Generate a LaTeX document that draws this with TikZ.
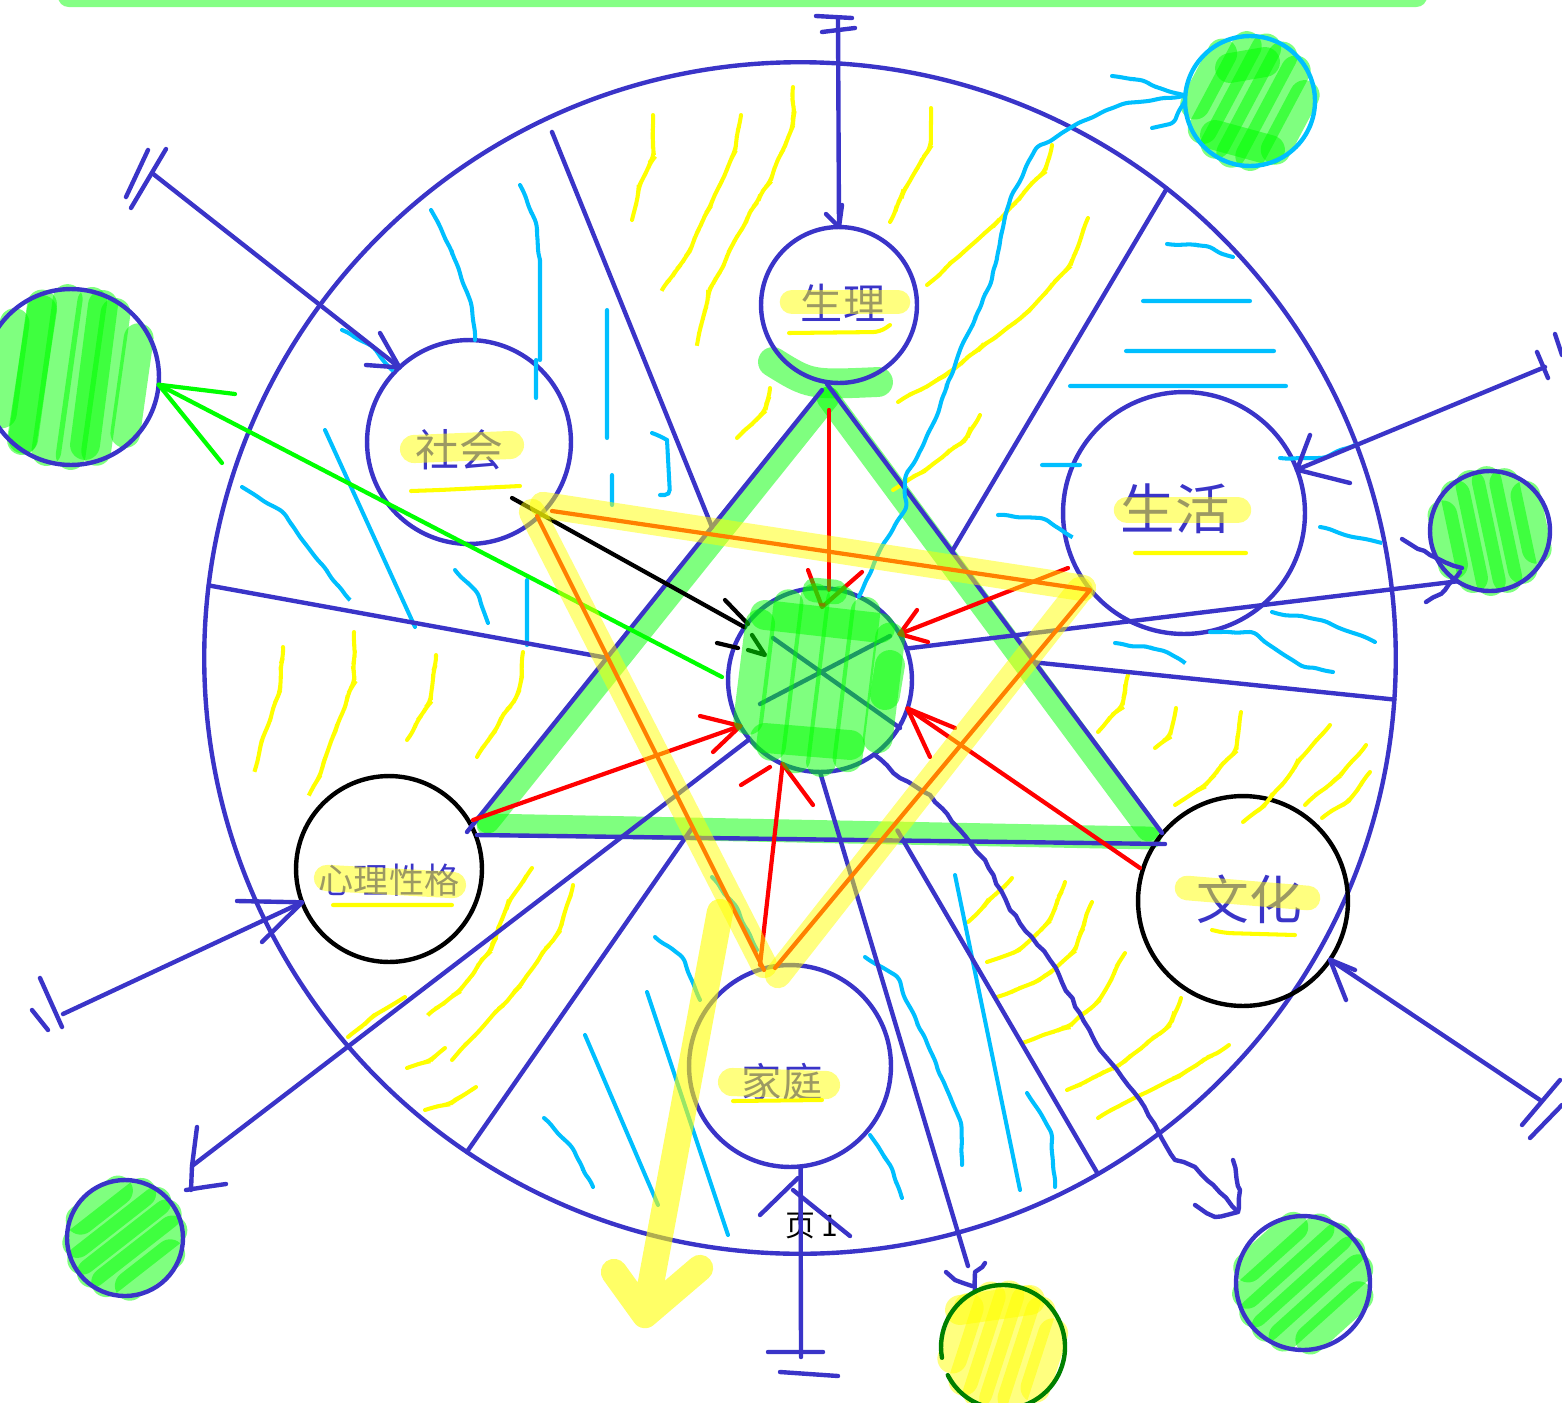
\documentclass[tikz,border=0pt]{standalone}
\usepackage{fontspec}
\newfontfamily\cjk{Noto Sans CJK SC}
\usetikzlibrary{
  positioning,
  backgrounds,  % Predefined layer named "background"
  decorations.pathmorphing,
  calc          % Points along the triangle sides
}
\definecolor{wireblue}{HTML}{3A34C8}
\definecolor{icecyan}{HTML}{00BFFF}
\definecolor{sunorange}{HTML}{FF8000}
\definecolor{barleaf}{HTML}{85FF85}
\definecolor{yellow}{rgb}{1,1,0}
\tikzset{
  wire/.style={draw=wireblue,line width=2.5pt,line cap=round,line join=round},
  ice/.style={draw=icecyan,line width=2.3pt,line cap=round,rounded corners=3pt},
  lemon/.style={draw=yellow,line width=2.3pt,line cap=round,rounded corners=4pt},
  redline/.style={draw=red,line width=2.4pt,line cap=round,line join=round},
  inkline/.style={line width=2.4pt,line cap=round,line join=round},
  shaky/.style={decorate,decoration={random steps,segment length=5pt,amplitude=0.7pt}},
  ring/.style={
    circle,
    wire,
    inner sep=0pt,
    outer sep=0pt,
    minimum size=#1*0.04cm
  },
  cjk text/.style={
    font=\cjk\fontsize{#1}{#1}\selectfont,
    text=wireblue,
    inner sep=0pt
  },
  glow/.style={draw=yellow,opacity=0.5,line cap=round},
  swipe/.style={draw=#1,opacity=0.5,line width=17pt,line cap=round},
  greenband/.style={draw=green,opacity=0.5,line width=13pt,line cap=round},
  yellowband/.style={draw=yellow,opacity=0.5,line width=15pt,line cap=round}
}
\pgfmathsetseed{7}
% Scribbled fill: node, radius, slant, colour
\newcommand{\scribble}[4]{%
  \begin{scope}[shift={(#1)},rotate=#3]
    \foreach \d in {-0.72,-0.44,-0.16,0.12,0.4,0.7} {
      \pgfmathsetmacro\h{sqrt((#2-10)*(#2-10)-#2*#2*\d*\d)}
      \draw[swipe=#4] (#2*\d,-\h) -- (#2*\d,\h);
    }
  \end{scope}
}
\begin{document}
\begin{tikzpicture}[x=0.02cm,y=-0.02cm]
\useasboundingbox (0,0) rectangle (1562,1403);
\fill[barleaf,rounded corners=6pt] (58,-20) rectangle (1427,7);

% Main nodes
\node[ring=596] (wheel) at (800,658) {};
\node[ring=78] (body) at (839,305) {};
\node[ring=102] (society) at (469,442) {};
\node[ring=121] (living) at (1184,513) {};
\node[ring=93,draw=black] (mind) at (389,869) {};
\node[ring=105,draw=black] (culture) at (1243,901) {};
\node[ring=101] (family) at (790,1066) {};
\node[ring=92] (core) at (820,680) {};
\node[ring=65,draw=icecyan] (skyball) at (1250,101) {};
\node[ring=88] (leftball) at (71,377) {};
\node[ring=60] (rightball) at (1490,531) {};
\node[ring=58] (lowball) at (125,1238) {};
\node[ring=67] (farball) at (1303,1283) {};
\node[ring=62,draw=none] (sunball) at (1003,1347) {};

% Triangle corners
\coordinate (apex l) at (822,390);
\coordinate (apex r) at (827,384);
\coordinate (west) at (467,832);
\coordinate (west b) at (477,835);
\coordinate (east) at (1162,833);
\coordinate (east b) at (1165,844);
\coordinate (red west) at (473,820);
\coordinate (star a) at (537,516);
\coordinate (star a2) at (552,511);
\coordinate (star b) at (1090,590);
\coordinate (star c) at (764,970);
\coordinate (star c2) at (775,968);

% Washes under everything
\begin{scope}[on background layer]
  \draw[greenband] (828,398) -- (488,822);
  \draw[greenband] (828,398) -- (1148,830);
  \draw[greenband] (488,825) -- (1150,838);
  \draw[draw=green,opacity=0.5,line width=17pt,line cap=round] (773,362) .. controls (810,385) .. (878,382);
  \scribble{skyball}{65}{-28}{green}
  \draw[swipe=green] (1230,68) -- (1265,62) (1215,135) -- (1270,150);
  \scribble{leftball}{88}{-8}{green}
  \draw[swipe=green] (42,310) -- (22,440) (103,305) -- (85,445);
  \scribble{rightball}{60}{12}{green}
  \scribble{lowball}{58}{-52}{green}
  \scribble{farball}{67}{-48}{green}
  \scribble{sunball}{62}{-18}{yellow}
  \draw[swipe=yellow] (960,1310) -- (1030,1300);
\end{scope}

% Texts under their highlights
\node[cjk text=24pt] (body text) at (843,303) {生理};
\node[cjk text=25pt] (society text) at (459,450) {社会};
\node[cjk text=31pt] (living text) at (1175,509) {生活};
\node[cjk text=20pt] (mind text) at (389,880) {心理性格};
\node[cjk text=30pt] (culture text) at (1249,899) {文化};
\node[cjk text=23pt] (family text) at (782,1082) {家庭};
\node[font=\cjk\fontsize{17pt}{17pt}\selectfont,inner sep=0pt] (page text) at (812,1226) {页 1};
\draw[glow,line width=14pt] (792,302) -- (898,302);
\draw[glow,line width=16pt] (414,449) -- (510,445);
\draw[glow,line width=15pt] (1127,510) -- (1238,510);
\draw[glow,line width=15pt] (327,878) -- (453,885);
\draw[glow,line width=14pt] (1187,888) -- (1308,898);
\draw[glow,line width=16pt] (732,1082) -- (826,1085);

% Underlines
\draw[lemon] (789,333) -- (880,332) -- (890,325)
  (411,491) -- (440,490) -- (520,486)
  (1135,553) -- (1246,553)
  (333,905) -- (452,905)
  (1212,930) -- (1225,933) -- (1295,935)
  (733,1101) -- (822,1100);

% Yellow strokes
\draw[lemon,shaky] (653,115) -- (653,155) -- (640,185) -- (632,220)
  (741,115) -- (735,150) -- (710,205) -- (690,250) -- (662,290)
  (793,87) -- (793,125) -- (770,180) -- (735,240) -- (710,290) -- (697,345)
  (931,108) -- (931,145) -- (905,190) -- (890,222)
  (1052,145) -- (1045,170) -- (1000,220) -- (960,255) -- (927,285)
  (1088,218) -- (1070,265) -- (1030,310) -- (985,345) -- (945,375) -- (898,402)
  (770,388) -- (765,410) -- (737,438)
  (980,415) -- (965,440) -- (925,470) -- (893,490)
  (283,647) -- (280,690) -- (262,740) -- (255,770)
  (354,632) -- (354,680) -- (335,730) -- (320,775) -- (310,793)
  (436,655) -- (430,700) -- (407,740)
  (523,652) -- (520,690) -- (495,730) -- (477,757)
  (532,868) -- (510,900) -- (490,950) -- (460,990) -- (428,1015)
  (573,885) -- (560,930) -- (520,985) -- (480,1030) -- (452,1060)
  (405,997) -- (375,1015) -- (348,1037)
  (445,1048) -- (430,1060) -- (407,1068)
  (476,1087) -- (450,1103) -- (425,1110)
  (1012,878) -- (990,900) -- (968,922)
  (1065,882) -- (1050,920) -- (1020,950) -- (987,962)
  (1092,902) -- (1075,950) -- (1040,980) -- (997,997)
  (1125,953) -- (1100,1000) -- (1070,1025) -- (1022,1043)
  (1181,998) -- (1170,1025) -- (1120,1065) -- (1067,1090)
  (1229,1045) -- (1180,1075) -- (1130,1100) -- (1098,1118)
  (1128,675) -- (1122,705) -- (1098,732)
  (1176,708) -- (1170,735) -- (1155,748)
  (1241,712) -- (1236,750) -- (1205,785) -- (1175,805)
  (1330,725) -- (1300,760) -- (1265,805) -- (1243,822)
  (1366,745) -- (1340,775) -- (1305,805)
  (1370,772) -- (1350,800) -- (1322,818);

% Cyan strokes
\draw[ice,shaky] (520,185) -- (535,220) -- (540,260)
  (431,210) -- (455,260) -- (470,300) -- (475,340)
  (652,433) -- (667,440)
  (242,487) -- (280,510) -- (310,550) -- (350,600)
  (455,570) -- (475,590) -- (488,623)
  (342,330) -- (370,345) -- (392,370)
  (1167,244) -- (1205,246) -- (1233,257)
  (998,515) -- (1040,518) -- (1072,537)
  (1280,458) -- (1320,458) -- (1355,445)
  (1320,527) -- (1345,535) -- (1382,543)
  (1115,643) -- (1160,650) -- (1185,663)
  (1272,612) -- (1320,620) -- (1375,642)
  (1210,632) -- (1250,632) -- (1300,665) -- (1333,672)
  (655,937) -- (680,955) -- (700,1000)
  (712,877) -- (735,905) -- (757,950)
  (544,1118) -- (570,1145) -- (593,1187)
  (865,957) -- (895,975) -- (930,1050) -- (960,1120) -- (962,1165)
  (870,1135) -- (890,1165) -- (902,1198)
  (1027,1093) -- (1050,1130) -- (1055,1187);
\draw[ice] (540,260) -- (540,360)
  (536,360) -- (536,398)
  (607,310) -- (607,438)
  (612,475) -- (612,505)
  (667,440) -- (670,495) -- (660,495)
  (325,430) -- (415,627)
  (527,580) -- (527,645)
  (1143,301) -- (1250,301)
  (1126,351) -- (1274,351)
  (1070,386) -- (1286,386)
  (1042,465) -- (1080,465)
  (647,992) -- (728,1235)
  (585,1035) -- (658,1205)
  (955,875) -- (1020,1190);

% Sectors
\coordinate (cut end) at (552,132);
\draw[wire] (cut end) -- ($(apex l)!0.31!(west)$);
\draw[wire] (wheel.52.3) -- ($(apex r)!0.373!(east)$);
\draw[wire] (wheel.173.2) -- ($(apex l)!0.606!(west)$);
\draw[wire] (wheel.-4) -- ($(apex r)!0.62!(east)$);
\draw[wire] (wheel.236.3) -- ($(west b)!0.31!(east b)+(2,-10)$);
\draw[wire] (wheel.-60.3) -- ($(west b)!0.614!(east b)+(-2,-10)$);

% Blue triangle sides
\draw[wire] (apex l) -- (west);
\draw[wire] (apex r) -- (east);
\draw[wire] (west b) -- (east b);

% Outer arrows with their bars
\coordinate (top end) at (838,20);
\draw[wire] (top end) -- (body.90);
\draw[wire] (816,16) -- (852,18) (822,32) -- (855,28) (826,214) -- (body.90) -- (842,205);
\coordinate (nw end) at (152,173);
\draw[wire] (nw end) -- (society.133);
\draw[wire] (126,197) -- (148,150) (131,208) -- (166,149) (380,333) -- (society.133) -- (366,365);
\coordinate (sw end) at (63,1014);
\draw[wire] (sw end) -- (mind.201);
\draw[wire] (32,1010) -- (48,1030) (40,978) -- (62,1027) (237,901) -- (mind.201) -- (262,942);
\coordinate (ne end) at (1545,367);
\draw[wire] (ne end) -- (living.21);
\draw[wire] (1537,352) -- (1548,378) (1555,334) -- (1562,355) (1310,435) -- (living.21) -- (1350,483);
\coordinate (se end) at (1540,1100);
\draw[wire] (se end) -- (culture.-34);
\draw[wire] (1522,1125) -- (1560,1080) (1530,1138) -- (1562,1105) (1346,1000) -- (culture.-34) -- (1355,970);
\coordinate (bottom end) at (801,1357);
\draw[wire] (bottom end) -- (family.-84);
\draw[wire] (768,1352) -- (823,1352) (780,1372) -- (838,1376) (760,1215) -- (798,1178) (793,1190) -- (850,1236);

% Spokes out of the centre
\coordinate (sun hook) at (968,1266);
\draw[wire] (core.-90) -- (sun hook);
\draw[wire,shaky] (946,1272) -- (955,1280) -- (972,1286);
\draw[wire,shaky] (sunball.117) -- (975,1272) -- (985,1263);
\draw[wire] (core.20) -- (rightball.237);
\draw[wire,shaky] (1402,539) -- (1430,555) -- (1462,568);
\draw[wire,shaky] (1426,602) -- (1445,590) -- (1460,572);
\coordinate (low hook) at (192,1166);
\draw[wire] (core.220) -- (low hook);
\draw[wire] (197,1127) -- (low hook) (186,1190) -- (205,1187) -- (226,1184) (191,1190) -- (low hook);
\coordinate (far hook) at (1238,1212);
\draw[wire,shaky] (core.-54) -- (900,778) -- (930,795) -- (960,830) -- (985,860) -- (1010,910) -- (1050,960) -- (1100,1050) -- (1140,1100) -- (1175,1160) -- (1195,1167) -- (far hook);
\draw[wire,shaky] (1233,1160) -- (1240,1190) -- (far hook) -- (1215,1217) -- (1195,1205);

% Arcs of the yellow ball
\draw[line width=2.5pt,draw=green!50!black,line cap=round] (sunball.207) arc[start angle=207,end angle=550,radius=1.24cm];

% Reds into the centre
\coordinate (red top) at (829,410);
\draw[redline] (red top) -- (829,590);
\draw[redline] (1068,568) -- (core.30);
\draw[redline] (917,610) -- (core.30) -- (928,642);
\draw[redline] (1140,868) -- (core.-18);
\draw[redline] (955,728) -- (core.-18) -- (930,757);
\draw[redline] (red west) -- (core.210);
\draw[redline] (700,716) -- (core.210) -- (713,752);
\draw[redline] (760,965) -- (core.246);
\draw[redline] (741,785) -- (770,767) (813,805) -- (core.246);
\draw[redline] (808,570) -- (822,607) -- (862,572);

% Black arrow, green arrow, cyan arrow
\draw[inkline] (512,498) -- (core.145);
\draw[inkline] (725,600) -- (748,624) (717,643) -- (738,648);
\draw[inkline] (752,635) -- (765,655) -- (748,650);
\coordinate (green tail) at (722,677);
\draw[inkline,draw=green] (green tail) -- (leftball.-5);
\draw[inkline,draw=green] (235,394) -- (leftball.-5) -- (222,463);
\draw[ice,shaky] (core.65) -- (880,550) -- (905,510) -- (905,480) -- (935,420) -- (960,350) -- (990,285) -- (1010,200) -- (1035,150) -- (1075,125) -- (1120,105) -- (skyball.175);
\draw[ice,shaky] (1112,76) -- (1140,80) -- (1165,90) -- (skyball.175);
\draw[ice,shaky] (1152,128) -- (1170,124) -- (skyball.180);

% X in the centre
\draw[wire] (773,638) -- (900,728) (760,704) -- (890,636);

% Yellow triangle
\draw[yellowband] (543,505) -- (1083,588);
\draw[yellowband] (532,512) -- (764,965);
\draw[yellowband] (1080,590) -- (778,975);
\draw[inkline,draw=sunorange] (star a) -- (star c);
\draw[inkline,draw=sunorange] (star a2) -- (star b) -- (star c2);

% Scribbled centre
\scribble{core}{92}{-7}{green}
\draw[swipe=green] (765,615) -- (880,628) (765,738) -- (850,745) (890,665) -- (885,695);
\draw[swipe=green,line width=14pt] (815,590) -- (835,592);

% Big yellow arrow
\coordinate (arrow tail) at (720,912);
\coordinate (arrow tip) at (645,1315);
\draw[draw=yellow,opacity=0.6,line width=15pt,line cap=round,line join=round] (arrow tail) -- (arrow tip) (614,1272) -- (arrow tip) -- (700,1268);
\end{tikzpicture}
\end{document}
